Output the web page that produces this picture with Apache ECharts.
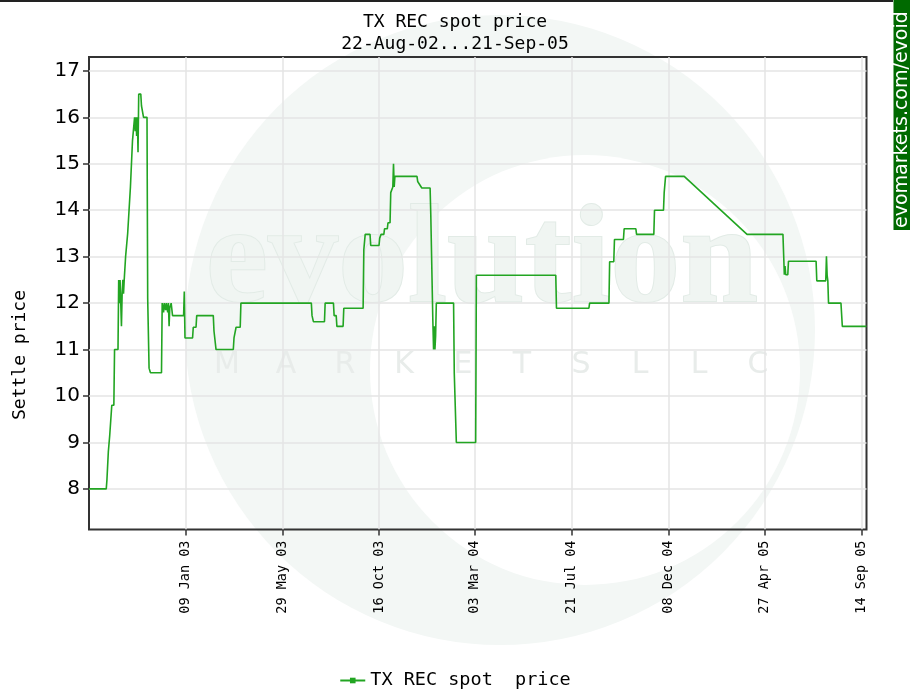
<!DOCTYPE html>
<html><head><meta charset="utf-8">
<script src="https://cdn.jsdelivr.net/npm/echarts@6/dist/echarts.min.js"></script>
<style>html,body{margin:0;padding:0;background:#fff}#c{width:910px;height:699px}</style>
</head><body><div id="c"></div>
<script>
// ---- data ----
const dates = [
'2002-08-22','2002-09-16','2002-09-17','2002-09-18','2002-09-19','2002-09-20','2002-09-21','2002-09-23','2002-09-24','2002-09-27','2002-09-28',
'2002-10-03','2002-10-04','2002-10-05','2002-10-06','2002-10-07','2002-10-08','2002-10-09','2002-10-10','2002-10-11','2002-10-12',
'2002-10-13','2002-10-14','2002-10-16','2002-10-17','2002-10-18','2002-10-19','2002-10-20','2002-10-21','2002-10-23','2002-10-24',
'2002-10-26','2002-10-27','2002-10-28','2002-10-29','2002-10-30','2002-10-31','2002-11-01','2002-11-02',
'2002-11-05','2002-11-06','2002-11-08','2002-11-09','2002-11-14','2002-11-15','2002-11-16','2002-11-17','2002-11-18','2002-11-19',
'2002-12-05','2002-12-06','2002-12-07','2002-12-08','2002-12-09','2002-12-10','2002-12-11','2002-12-12','2002-12-13','2002-12-14',
'2002-12-15','2002-12-16','2002-12-17','2002-12-18','2002-12-19','2002-12-20','2002-12-21',
'2003-01-06','2003-01-07','2003-01-08','2003-01-19','2003-01-20','2003-01-24','2003-01-25',
'2003-02-18','2003-02-19','2003-02-21','2003-02-22','2003-03-19','2003-03-20','2003-03-22','2003-03-23','2003-03-29','2003-03-30',
'2003-07-10','2003-07-11','2003-07-12','2003-07-13','2003-07-29','2003-07-30',
'2003-08-11','2003-08-12','2003-08-15','2003-08-16','2003-08-25','2003-08-26',
'2003-09-23','2003-09-24','2003-09-25','2003-09-26','2003-10-03','2003-10-04',
'2003-10-16','2003-10-17','2003-10-18','2003-10-19','2003-10-23','2003-10-24','2003-10-28','2003-10-29',
'2003-11-01','2003-11-02','2003-11-04','2003-11-05','2003-11-06','2003-11-07','2003-11-08',
'2003-12-10','2003-12-11','2003-12-13','2003-12-14','2003-12-16','2003-12-17','2003-12-29','2003-12-30',
'2004-01-01','2004-01-02','2004-01-03','2004-01-04','2004-01-05','2004-01-06','2004-01-07',
'2004-02-01','2004-02-02','2004-02-04','2004-02-05','2004-03-04','2004-03-05',
'2004-06-28','2004-06-29','2004-08-15','2004-08-16','2004-09-13','2004-09-14','2004-09-20','2004-09-21',
'2004-10-04','2004-10-05','2004-10-22','2004-10-23','2004-11-17','2004-11-18',
'2004-12-01','2004-12-02','2004-12-03','2004-12-04','2004-12-31','2005-04-01',
'2005-05-23','2005-05-24','2005-05-25','2005-05-26','2005-05-27','2005-05-30','2005-05-31',
'2005-07-10','2005-07-11','2005-07-24','2005-07-25','2005-07-26','2005-07-27','2005-07-28',
'2005-08-15','2005-08-16','2005-08-17','2005-09-21'
];
const prices = [
8,8,8.2,8.2,8.8,8.8,9.15,9.15,9.8,9.8,11.0,
11.0,12.5,12.0,12.5,12.0,11.5,12.2,12.5,12.2,12.5,
12.5,13.0,13.0,13.5,13.5,14.0,14.0,14.5,14.5,15.5,
15.5,16.0,15.7,16.0,15.6,16.0,15.25,16.5,
16.5,16.25,16.25,16.0,16.0,12.1,12.1,10.6,10.6,10.5,
10.5,12.0,12.0,11.8,12.0,12.0,11.85,12.0,12.0,11.8,
12.0,11.5,11.9,11.9,12.0,12.0,11.73,
11.73,12.25,11.25,11.25,11.48,11.48,11.73,
11.73,11.4,11.4,11.0,11.0,11.25,11.25,11.48,11.48,12.0,
12.0,11.73,11.73,11.6,11.6,12.0,
12.0,11.73,11.73,11.5,11.5,11.89,
11.89,13.15,13.15,13.48,13.48,13.24,
13.24,13.4,13.4,13.48,13.48,13.6,13.6,13.73,
13.73,14.38,14.38,14.5,15.0,14.5,14.73,
14.73,14.62,14.62,14.55,14.55,14.48,14.48,13.89,
13.89,11.6,11.0,11.5,11.0,11.3,12.0,
12.0,10.49,10.49,9.0,9.0,12.6,
12.6,11.89,11.89,12.0,12.0,12.89,12.89,13.37,
13.37,13.6,13.6,13.48,13.48,14.0,
14.0,14.38,14.38,14.73,14.73,13.48,
13.48,13.04,12.61,12.8,12.61,12.61,12.9,
12.9,12.48,12.48,13.01,12.6,12.48,12.0,
12.0,11.75,11.5,11.5
];
const xTickDates = ['2003-01-09','2003-05-29','2003-10-16','2004-03-03','2004-07-21','2004-12-08','2005-04-27','2005-09-14'];
const xStart = '2002-08-22', xEnd = '2005-09-21';
const yTicks = [8,9,10,11,12,13,14,15,16,17];
const seriesName = 'TX REC spot  price';
const titleText = 'TX REC spot price\n22-Aug-02...21-Sep-05';
const yName = 'Settle price';
const monthNames = ['Jan','Feb','Mar','Apr','May','Jun','Jul','Aug','Sep','Oct','Nov','Dec'];

const DAY = 86400000;
function ts(s){const p=s.split('-').map(Number);return Date.UTC(p[0],p[1]-1,p[2]);}
const t0 = ts(xStart);
function dayOf(s){return Math.round((ts(s)-t0)/DAY);}
function fmt(v){const d=new Date(t0+Math.round(v)*DAY);return String(d.getUTCDate()).padStart(2,'0')+' '+monthNames[d.getUTCMonth()]+' '+String(d.getUTCFullYear()).slice(2);}

const mono = 'DejaVu Sans Mono';
const green = '#22a522';
const chart = echarts.init(document.getElementById('c'), null, {renderer:'canvas'});

const wm = [];
wm.push({type:'circle', shape:{cx:500, cy:330, r:315}, style:{fill:'#f3f7f5'}, z:-10, silent:true});
wm.push({type:'circle', shape:{cx:585, cy:370, r:215}, style:{fill:'#ffffff'}, z:-9, silent:true});
wm.push({type:'text', x:482, y:335, style:{text:'evolution', font:'bold 140px "Liberation Serif"', fill:'#f0f5f2', stroke:'#e2ebe6', lineWidth:2, textAlign:'center', textVerticalAlign:'bottom'}, z:-8, silent:true});
const letters = ['M','A','R','K','E','T','S','L','L','C'];
letters.forEach((ch,i)=>{
  wm.push({type:'text', x:227+i*59, y:365, style:{text:ch, font:'30px "DejaVu Sans"', fill:'#e8ecea', textAlign:'center', textVerticalAlign:'middle'}, z:-8, silent:true});
});

const xTicks = xTickDates.map(dayOf);
const option = {
  animation: false,
  backgroundColor: '#ffffff',
  title: {
    text: titleText, left: 'center', top: 6,
    textStyle: {fontFamily: mono, fontSize: 18, fontWeight: 'normal', color: '#000', lineHeight: 22}
  },
  legend: {
    bottom: 4, left: 'center', itemWidth: 25, itemHeight: 7, itemGap: 6,
    textStyle: {fontFamily: mono, fontSize: 18.5, color: '#000'},
    data: [seriesName]
  },
  grid: {left: 89, right: 43.5, top: 57, bottom: 169.5, show: true, borderColor: '#333', borderWidth: 2, containLabel: false},
  xAxis: {
    type: 'value', min: 0, max: dayOf(xEnd),
    axisLine: {show: false},
    axisTick: {show: true, customValues: xTicks, length: 6, lineStyle: {color: '#333', width: 1.5}},
    axisLabel: {customValues: xTicks, rotate: 90, formatter: fmt, fontFamily: mono, fontSize: 13.5, color: '#000', margin: 11},
    splitLine: {show: true, lineStyle: {color: '#e4e4e4', width: 1.5}}
  },
  yAxis: {
    type: 'value', min: 7.125, max: 17.3,
    axisLine: {show: false},
    axisTick: {show: true, customValues: yTicks, length: 6, lineStyle: {color: '#333', width: 1.5}},
    axisLabel: {customValues: yTicks, fontFamily: 'DejaVu Sans', fontSize: 20, color: '#000', margin: 9},
    splitLine: {show: true, lineStyle: {color: '#e4e4e4', width: 1.5}}
  },
  series: [{
    type: 'line', name: seriesName,
    data: dates.map((d,i)=>[dayOf(d), prices[i]]),
    showSymbol: false, symbol: 'rect', symbolSize: 5,
    lineStyle: {color: green, width: 1.6},
    itemStyle: {color: green}
  }],
  graphic: wm.concat([
    {type:'line', shape:{x1:0, y1:1, x2:893, y2:1}, style:{stroke:'#222', lineWidth:2}, silent:true},
    {type:'rect', shape:{x:893.5, y:0, width:17, height:230}, style:{fill:'#006a00'}, silent:true},
    {type:'text', x:902, y:228, rotation:Math.PI/2, style:{text:'evomarkets.com/evoid', font:'19px "DejaVu Sans"', fill:'#ffffff', textAlign:'left', textVerticalAlign:'middle'}, silent:true},
    {type:'text', x:20, y:355, rotation:Math.PI/2, style:{text:yName, font:'18px "DejaVu Sans Mono"', fill:'#000', textAlign:'center', textVerticalAlign:'middle'}, silent:true}
  ])
};
chart.setOption(option);
</script>
</body></html>
